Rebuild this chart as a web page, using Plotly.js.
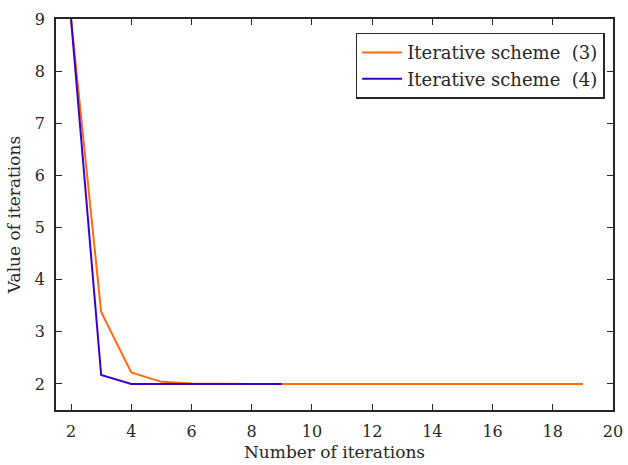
<!DOCTYPE html>
<html><head><meta charset="utf-8">
<script src="https://cdn.plot.ly/plotly-3.0.1.min.js"></script>
<style>html,body{margin:0;padding:0;background:#fff}#c{width:628px;height:465px}</style>
</head><body><div id="c"></div>
<script>
const x3 = [2,3,4,5,6,7,8,9,10,11,12,13,14,15,16,17,18,19];
const y3 = [9,3.38,2.22,2.04,2.01,2.0,2.0,2.0,2.0,2.0,2.0,2.0,2.0,2.0,2.0,2.0,2.0,2.0];
const x4 = [2,3,4,5,6,7,8,9];
const y4 = [9,2.17,2.0,2.0,2.0,2.0,2.0,2.0];
const names = ['Iterative scheme  (3)','Iterative scheme  (4)'];
const fam = "DejaVu Serif";
const font = {family:fam, size:16, color:'#262626'};
const tfont = {family:fam, size:17, color:'#262626'};
const traces = [
  {x:x3,y:y3,mode:'lines',name:names[0],line:{color:'#ff6a0a',width:2}},
  {x:x4,y:y4,mode:'lines',name:names[1],line:{color:'#3a00cc',width:2}}
];
const ax = {showgrid:false,zeroline:false,mirror:'ticks',ticks:'inside',ticklen:6,tickwidth:1,
  tickcolor:'#262626',showline:true,linecolor:'#262626',linewidth:1.5,tickfont:font};
const layout = {
  width:628,height:465,margin:{l:56,r:15,t:19,b:55},
  paper_bgcolor:'#fff',plot_bgcolor:'#fff',font:font,
  xaxis:Object.assign({},ax,{range:[1.5,20],dtick:2,tick0:0,ticklabelstandoff:6,title:{text:'Number of iterations',font:tfont,standoff:6}}),
  yaxis:Object.assign({},ax,{range:[1.5,9],dtick:1,ticklabelstandoff:6,title:{text:'Value of iterations',font:tfont,standoff:10}}),
  showlegend:true,
  legend:{x:0.985,y:0.965,xanchor:'right',yanchor:'top',bordercolor:'#262626',borderwidth:1.5,
    bgcolor:'#fff',font:{family:fam,size:18,color:'#262626'},tracegroupgap:0,itemwidth:40}
};
Plotly.newPlot('c',traces,layout,{displayModeBar:false});
</script></body></html>
